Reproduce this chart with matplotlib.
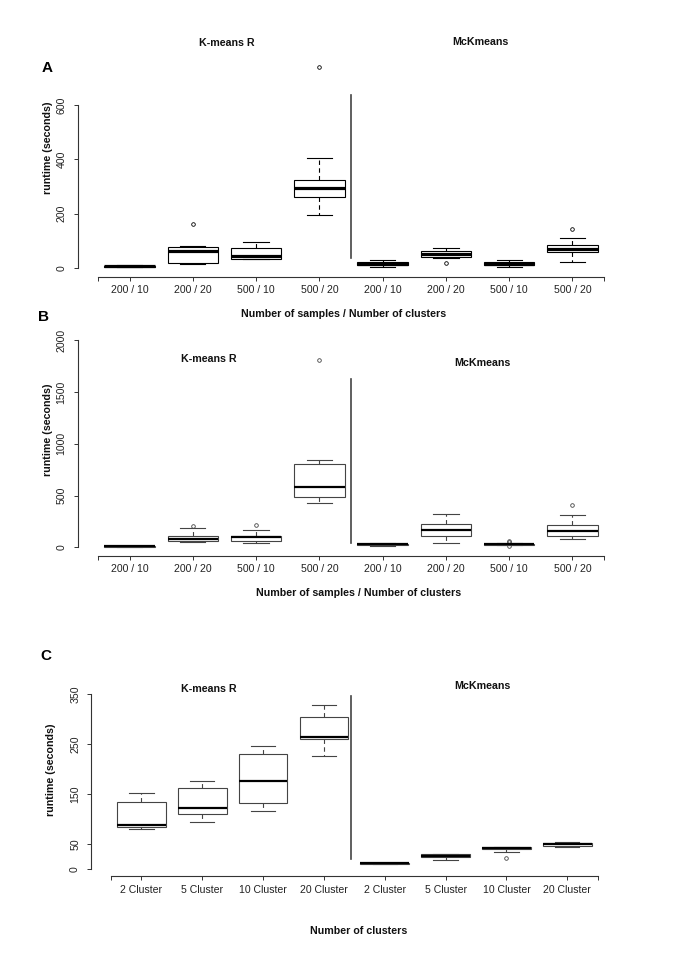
import matplotlib
matplotlib.use('Agg')
import matplotlib.pyplot as plt

plt.rcParams['font.family'] = ['Liberation Sans', 'DejaVu Sans']

# panel A: runtime vs samples/clusters
a_labels = ['200 / 10', '200 / 20', '500 / 10', '500 / 20'] * 2
a_lo = [3, 13.5, 32, 195, 3, 35.6, 3, 23.3]
a_q1 = [5, 19.6, 34.4, 260, 10, 41.7, 10, 57.7]
a_med = [7, 62.6, 45.4, 293, 16, 51.5, 16, 71.2]
a_q3 = [9, 76, 72.4, 322.7, 23, 62.6, 22, 84.7]
a_hi = [12, 80, 94.5, 403.7, 31, 73.6, 28, 111.7]
a_fl = [[], [160.7], [], [738.6], [], [19.6], [], [143.6]]

# panel B
b_labels = a_labels
b_lo = [5, 51.6, 42, 426, 12, 42, 20, 80.6]
b_q1 = [8, 58, 58, 490, 24, 113, 26, 110]
b_med = [10, 80.6, 96.8, 584, 29, 164.5, 30, 155]
b_q3 = [13, 113, 113, 803, 34, 229, 34, 216]
b_hi = [18, 187, 171, 842, 46, 322.6, 40, 316]
b_fl = [[], [206], [216], [1806], [], [], [55, 65, 10], [413]]

# panel C: runtime vs number of clusters
c_labels = ['2 Cluster', '5 Cluster', '10 Cluster', '20 Cluster'] * 2
c_lo = [80, 94, 115.3, 225.3, 10.5, 18, 33.3, 44]
c_q1 = [83.3, 110.7, 132.7, 259.3, 11, 23.3, 39.3, 45.3]
c_med = [88, 122, 176, 264, 11.3, 26, 42, 49.3]
c_q3 = [134, 162, 229.3, 304.7, 11.6, 29.3, 44, 52.7]
c_hi = [152.7, 175.3, 246.7, 328.7, 12, 30.7, 44.7, 54]
c_fl = [[], [], [], [], [], [], [21.3], []]

W, H = 685, 968
fig = plt.figure(figsize=(W / 100, H / 100), dpi=100)


def px_text(x, y, s, **kw):
    fig.text(x / W, 1 - y / H, s, ha='center', va='center', **kw)


def panel(rect, lo, q1, med, q3, hi, fl, labels, ylim, yticks, sep, col, med_lw):
    ax = fig.add_axes(rect)
    stats = [dict(whislo=lo[i], q1=q1[i], med=med[i], q3=q3[i], whishi=hi[i], fliers=fl[i])
             for i in range(len(lo))]
    ax.bxp(stats, positions=range(1, len(lo) + 1), widths=0.8, capwidths=0.4,
           patch_artist=True, manage_ticks=False,
           boxprops=dict(facecolor='white', edgecolor=col, linewidth=0.8),
           medianprops=dict(color='black', linewidth=med_lw, solid_capstyle='butt'),
           whiskerprops=dict(color=col, linewidth=0.8, linestyle=(0, (4, 3))),
           capprops=dict(color=col, linewidth=0.8),
           flierprops=dict(marker='o', markersize=2.6, markerfacecolor='none',
                           markeredgecolor=col, markeredgewidth=0.6))
    ax.plot([sep[0], sep[0]], [sep[1], sep[2]], color='#444444', lw=1.2)
    ax.set_xlim(0.18, 8.82)
    ax.set_ylim(*ylim)
    for s in ['top', 'right']:
        ax.spines[s].set_visible(False)
    ax.spines['bottom'].set_bounds(0.5, 8.5)
    ax.spines['left'].set_bounds(yticks[0], yticks[-1])
    for s in ['bottom', 'left']:
        ax.spines[s].set_color('#333333')
        ax.spines[s].set_linewidth(0.8)
    ax.set_xticks([0.5] + list(range(1, 9)) + [8.5])
    ax.set_xticklabels([''] + labels + [''], fontsize=7.6, color='#222222')
    ax.set_yticks(yticks)
    ax.set_yticklabels([str(t) for t in yticks], rotation=90, va='center',
                       fontsize=7.6, color='#222222')
    ax.tick_params(axis='both', direction='out', length=3.2, width=0.7, color='#333333')
    ax.tick_params(axis='x', pad=3)
    ax.tick_params(axis='y', pad=5)
    ax.patch.set_alpha(0)
    return ax


panel([77.7 / W, 1 - 276.7 / H, 546.6 / W, 234.7 / H],
      a_lo, a_q1, a_med, a_q3, a_hi, a_fl, a_labels,
      (-32, 832), [0, 200, 400, 600], (4.5, 38, 637), 'black', 2.3)
panel([77.7 / W, 1 - 555.7 / H, 546.6 / W, 223.9 / H],
      b_lo, b_q1, b_med, b_q3, b_hi, b_fl, b_labels,
      (-80, 2080), [0, 500, 1000, 1500, 2000], (4.5, 42, 1620), '#444444', 1.6)
panel([91.5 / W, 1 - 876.3 / H, 525.7 / W, 194.5 / H],
      c_lo, c_q1, c_med, c_q3, c_hi, c_fl, c_labels,
      (-14.4, 374.4), [0, 50, 150, 250, 350], (4.44, 21, 346), '#444444', 1.6)

bold = dict(fontsize=7.7, fontweight='bold', color='#111111')
px_text(226.7, 43.5, 'K-means R', **bold)
px_text(480, 42, 'McKmeans', **bold)
px_text(209, 359, 'K-means R', **bold)
px_text(482.7, 362.7, 'McKmeans', **bold)
px_text(209, 689.3, 'K-means R', **bold)
px_text(482.7, 686, 'McKmeans', **bold)

px_text(343.3, 314.3, 'Number of samples / Number of clusters', **bold)
px_text(358.3, 593.3, 'Number of samples / Number of clusters', **bold)
px_text(359, 930.7, 'Number of clusters', **bold)

px_text(48.3, 148, 'runtime (seconds)', rotation=90, **bold)
px_text(48.3, 430, 'runtime (seconds)', rotation=90, **bold)
px_text(50.7, 770, 'runtime (seconds)', rotation=90, **bold)

letter = dict(fontsize=11, fontweight='bold', color='black')
px_text(46.7, 68.3, 'A', **letter)
px_text(43.3, 317, 'B', **letter)
px_text(46, 655.7, 'C', **letter)

fig.savefig('out.png', dpi=100, facecolor='white')
